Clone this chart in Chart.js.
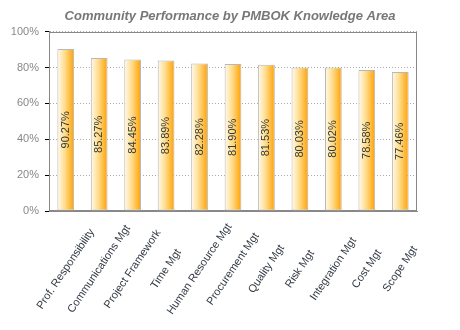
<!DOCTYPE html>
<html><head><meta charset="utf-8">
<script src="https://cdn.jsdelivr.net/npm/chart.js@4"></script>
<style>html,body{margin:0;padding:0;background:#fff}#w{width:460px;height:330px}</style>
</head><body><div id="w"><canvas id="c" width="460" height="330"></canvas></div>
<script>
const categories = ["Prof. Responsibility","Communications Mgt","Project Framework","Time Mgt","Human Resource Mgt","Procurement Mgt","Quality Mgt","Risk Mgt","Integration Mgt","Cost Mgt","Scope Mgt"];
const scores = [90.27,85.27,84.45,83.89,82.28,81.90,81.53,80.03,80.02,78.58,77.46];
const yTicks = [0,20,40,60,80,100];
const title = "Community Performance by PMBOK Knowledge Area";

const BARPCT = 0.5;
const FONT = '"Liberation Sans", Arial, sans-serif';
function barFill(ctx){
  const chart = ctx.chart;
  const xs = chart.scales.x;
  if(!xs || ctx.dataIndex === undefined) return '#ffb000';
  const cx = xs.getPixelForValue(ctx.dataIndex);
  const hw = xs.width / categories.length * BARPCT / 2;
  if(!isFinite(cx)) return '#ffb000';
  const g = chart.ctx.createLinearGradient(cx-hw,0,cx+hw,0);
  g.addColorStop(0,'#fffbee');
  g.addColorStop(0.45,'#ffdc8c');
  g.addColorStop(1,'#ffa000');
  return g;
}
const boxPlugin = {
  id:'box',
  beforeDatasetsDraw(chart){
    const a = chart.chartArea, c = chart.ctx;
    c.save(); c.strokeStyle='#888'; c.lineWidth=1;
    c.strokeRect(Math.round(a.left)+0.5, Math.round(a.top)+0.5, Math.round(a.right-a.left)-1, Math.round(a.bottom-a.top)-1);
    c.restore();
  },
  afterDatasetsDraw(chart){
    const c = chart.ctx;
    const meta = chart.getDatasetMeta(0);
    c.save();
    c.font = '11px ' + FONT;
    c.fillStyle = '#2f3a3a';
    c.textAlign='center'; c.textBaseline='middle';
    meta.data.forEach((el,i)=>{
      const p = el.getProps(['x','y','base'],true);
      c.save();
      c.translate(p.x, (p.y+p.base)/2);
      c.rotate(-Math.PI/2);
      c.fillText(scores[i].toFixed(2)+'%',0,0);
      c.restore();
    });
    // category labels, rotated about their centre
    const xs = chart.scales.x;
    c.fillStyle = '#333a44';
    categories.forEach((lab,i)=>{
      const x = xs.getPixelForTick(i);
      c.save();
      c.translate(x, xs.top + 58);
      c.rotate(-56*Math.PI/180);
      c.fillText(lab,0,0);
      c.restore();
    });
    c.restore();
  }
};
new Chart(document.getElementById('c'),{
  type:'bar',
  data:{labels:categories,datasets:[{data:scores,backgroundColor:barFill,borderColor:'#b8b8b8',borderWidth:1,borderSkipped:false,barPercentage:BARPCT,categoryPercentage:1,yAxisID:'y'}]},
  options:{
    responsive:false,animation:false,
    layout:{padding:0},
    plugins:{
      legend:{display:false},tooltip:{enabled:false},
      title:{display:true,text:title,color:'#777',font:{family:FONT,size:13,style:'italic',weight:'bold'},padding:{top:9,bottom:7}}
    },
    scales:{
      x:{
        grid:{display:false},
        border:{color:'#888'},
        ticks:{display:false},
        afterFit(s){s.height=119;}
      },
      y:{
        min:0,max:100,
        afterBuildTicks(s){s.ticks=yTicks.map(v=>({value:v}));},
        grid:{color:'#aaa',tickColor:'#000',tickLength:4,tickBorderDash:[],drawOnChartArea:true},
        border:{color:'#888',dash:[1,2]},
        ticks:{color:'#888',font:{family:FONT,size:11},callback:v=>v+'%',padding:6},
        afterFit(s){s.width=49;}
      },
      yr:{
        position:'right',display:true,min:0,max:100,
        grid:{display:false},border:{display:false},
        ticks:{display:false},
        afterFit(s){s.width=43;}
      }
    }
  },
  plugins:[boxPlugin]
});
</script></body></html>
